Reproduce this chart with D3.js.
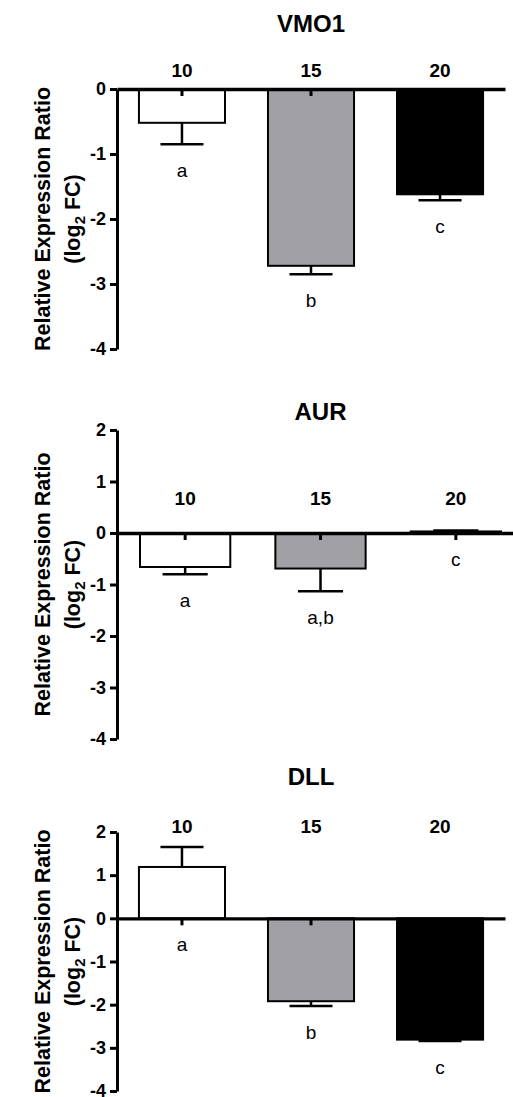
<!DOCTYPE html>
<html>
<head>
  <meta charset="utf-8">
  <script src="https://d3js.org/d3.v7.min.js"></script>
  <style>
    body { margin: 0; background: #fff; }
    text { font-family: "Liberation Sans", Arial, sans-serif; }
  </style>
</head>
<body>
<script>
  // temperature groups (x categories)
  var groups = ["10", "15", "20"];
  var genes = ["VMO1", "AUR", "DLL"];

  // mean log2 FC and SEM
  var vmo1Mean = [-0.52, -2.72, -1.62];
  var vmo1Err  = [0.33, 0.13, 0.09];
  var vmo1Sig  = ["a", "b", "c"];

  var aurMean = [-0.66, -0.69, 0.03];
  var aurErr  = [0.14, 0.44, 0.02];
  var aurSig  = ["a", "a,b", "c"];

  var dllMean = [1.19, -1.92, -2.81];
  var dllErr  = [0.46, 0.11, 0.03];
  var dllSig  = ["a", "b", "c"];

  var vmo1Ticks = [0, -1, -2, -3, -4];
  var aurTicks  = [2, 1, 0, -1, -2, -3, -4];
  var dllTicks  = [2, 1, 0, -1, -2, -3, -4];

  var fills = ["#ffffff", "#a1a1a5", "#000000"];

  var W = 513, H = 1097, axisX = 117;

  var svg = d3.select("body").append("svg")
      .attr("width", W)
      .attr("height", H);

  var panels = [
    {gene: genes[0], mean: vmo1Mean, err: vmo1Err, sig: vmo1Sig, ticks: vmo1Ticks,
     domain: [-4, 0], top: 89, bottom: 349, right: 505, titleY: 32, catY: 77},
    {gene: genes[1], mean: aurMean, err: aurErr, sig: aurSig, ticks: aurTicks,
     domain: [-4, 2], top: 430, bottom: 739, right: 524, titleY: 420, catY: 505},
    {gene: genes[2], mean: dllMean, err: dllErr, sig: dllSig, ticks: dllTicks,
     domain: [-4, 2], top: 832, bottom: 1091, right: 505, titleY: 785, catY: 833}
  ];

  panels.forEach(function (p) {
    var g = svg.append("g");

    var x = d3.scaleBand()
        .domain(groups)
        .range([axisX, p.right])
        .paddingInner(0.333)
        .paddingOuter(0.17);

    var y = d3.scaleLinear()
        .domain(p.domain)
        .range([p.bottom, p.top]);

    var rows = groups.map(function (k, i) {
      return {k: k, v: p.mean[i], e: p.err[i], s: p.sig[i], c: fills[i]};
    });
    var cx = function (d) { return x(d.k) + x.bandwidth() / 2; };

    // error bars (drawn away from zero)
    var tip = function (d) { return d.v < 0 ? d.v - d.e : d.v + d.e; };
    g.selectAll(".eb").data(rows).enter().append("line")
        .attr("x1", cx).attr("x2", cx)
        .attr("y1", function (d) { return y(d.v); })
        .attr("y2", function (d) { return y(tip(d)); })
        .attr("stroke", "#000").attr("stroke-width", 2.5);
    g.selectAll(".cap").data(rows).enter().append("line")
        .attr("x1", function (d) { return cx(d) - x.bandwidth() / 4; })
        .attr("x2", function (d) { return cx(d) + x.bandwidth() / 4; })
        .attr("y1", function (d) { return y(tip(d)); })
        .attr("y2", function (d) { return y(tip(d)); })
        .attr("stroke", "#000").attr("stroke-width", 2.5);

    // bars
    g.selectAll(".bar").data(rows).enter().append("rect")
        .attr("x", function (d) { return x(d.k); })
        .attr("width", x.bandwidth())
        .attr("y", function (d) { return y(Math.max(0, d.v)); })
        .attr("height", function (d) { return Math.abs(y(d.v) - y(0)); })
        .attr("fill", function (d) { return d.c; })
        .attr("stroke", "#000").attr("stroke-width", 2);

    // y axis
    var ya = g.append("g")
        .attr("transform", "translate(" + axisX + ",0)")
        .call(d3.axisLeft(y).tickValues(p.ticks).tickSize(7).tickSizeOuter(0)
          .tickPadding(4).tickFormat(function (d) { return String(d); }));
    ya.select(".domain").attr("stroke-width", 3);
    ya.selectAll(".tick line").attr("stroke-width", 3);
    ya.selectAll(".tick text")
        .style("font-family", "'Liberation Sans', Arial, sans-serif")
        .style("font-size", "18px").style("font-weight", "bold").attr("fill", "#000");

    // x axis sits on the zero line, ticks hang down
    var xa = g.append("g")
        .attr("transform", "translate(0," + y(0) + ")")
        .call(d3.axisBottom(x).tickSize(7).tickSizeOuter(0).tickFormat(""));
    xa.select(".domain").attr("stroke-width", 3.3);
    xa.selectAll(".tick line").attr("stroke-width", 3);

    // category labels
    g.selectAll(".cat").data(rows).enter().append("text")
        .attr("x", cx).attr("y", p.catY)
        .attr("text-anchor", "middle")
        .style("font-size", "19px").style("font-weight", "bold")
        .text(function (d) { return d.k; });

    // significance letters
    g.selectAll(".sig").data(rows).enter().append("text")
        .attr("x", cx)
        .attr("y", function (d) { return y(Math.min(0, d.v < 0 ? d.v - d.e : 0)) + 33; })
        .attr("text-anchor", "middle")
        .style("font-size", "19px")
        .text(function (d) { return d.s; });

    // title
    g.append("text")
        .attr("x", x("15") + x.bandwidth() / 2).attr("y", p.titleY)
        .attr("text-anchor", "middle")
        .style("font-size", "24px").style("font-weight", "bold")
        .text(p.gene);

    // y label
    var mid = (p.top + p.bottom) / 2;
    g.append("text")
        .attr("transform", "translate(50," + mid + ") rotate(-90)")
        .attr("text-anchor", "middle")
        .style("font-size", "21.5px").style("font-weight", "bold")
        .text("Relative Expression Ratio");
    var l2 = g.append("text")
        .attr("transform", "translate(80," + mid + ") rotate(-90)")
        .attr("text-anchor", "middle")
        .style("font-size", "21.5px").style("font-weight", "bold");
    l2.append("tspan").text("(log");
    l2.append("tspan").attr("dy", 5).style("font-size", "15px").text("2");
    l2.append("tspan").attr("dy", -5).text(" FC)");
  });
</script>
</body>
</html>
